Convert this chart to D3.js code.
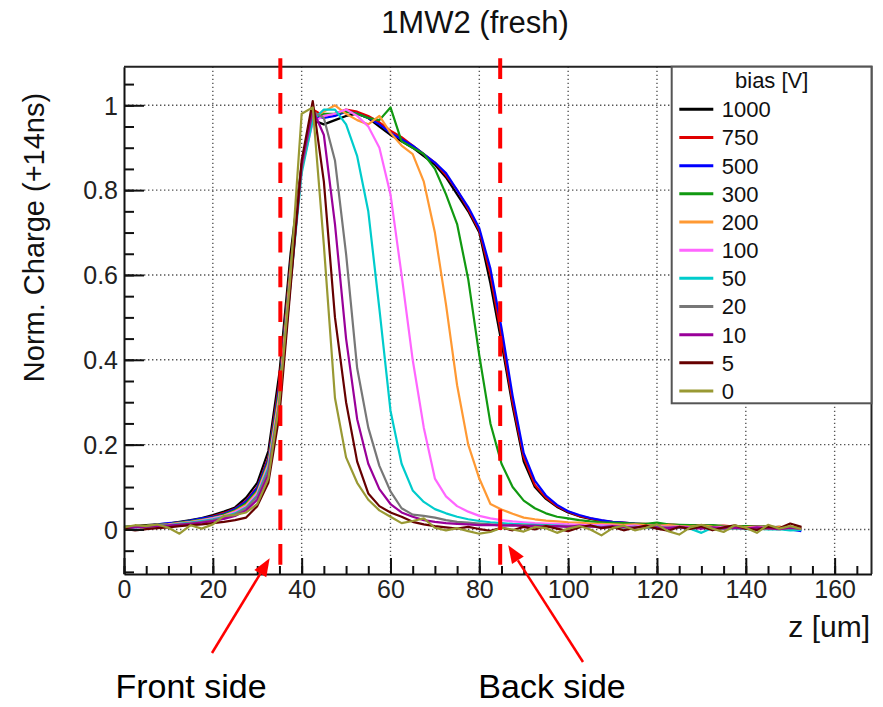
<!DOCTYPE html>
<html>
<head>
<meta charset="utf-8">
<script src="https://cdn.jsdelivr.net/npm/d3@7"></script>
<style>
  html, body { margin: 0; padding: 0; background: #fff; }
  svg { display: block; font-family: "Liberation Sans", Arial, Helvetica, sans-serif; }
</style>
</head>
<body>
<svg id="chart" width="883" height="707"></svg>
<script>
// Scan positions along the sensor depth [um]
const zPositions = [0, 2.5, 5, 7.5, 10, 12.5, 15, 17.5, 20, 22.5, 25, 27.5, 30, 32.5, 35, 37.5, 40,
  42.5, 45, 47.5, 50, 52.5, 55, 57.5, 60, 62.5, 65, 67.5, 70, 72.5, 75, 77.5, 80, 82.5, 85, 87.5,
  90, 92.5, 95, 97.5, 100, 102.5, 105, 107.5, 110, 112.5, 115, 117.5, 120, 122.5, 125, 127.5,
  130, 132.5, 135, 137.5, 140, 142.5, 145, 147.5, 150, 152.5];

// Bias voltages [V], in legend order
const biasLabels = ["1000", "750", "500", "300", "200", "100", "50", "20", "10", "5", "0"];

// Normalised collected charge (+14 ns) per bias voltage
const charge1000 = [0.006, 0.008, 0.010, 0.012, 0.014, 0.018, 0.022, 0.027, 0.034, 0.042, 0.052, 0.075, 0.110, 0.185, 0.37, 0.65, 0.86,
  0.965, 0.955, 0.965, 0.975, 0.98, 0.97, 0.95, 0.93, 0.915, 0.90,
  0.88, 0.86, 0.83, 0.79, 0.75, 0.70, 0.58, 0.44, 0.29, 0.16,
  0.10, 0.072, 0.053, 0.04, 0.031, 0.025, 0.02, 0.017, 0.015, 0.013,
  0.012, 0.011, 0.010, 0.009, 0.010, 0.008, 0.009, 0.007, 0.008, 0.006,
  0.007, 0.005, 0.006, 0.004, 0.005];
const charge750 = [0.004, 0.007, 0.009, 0.011, 0.013, 0.017, 0.020, 0.025, 0.031, 0.039, 0.049, 0.068, 0.100, 0.17, 0.35, 0.63, 0.85,
  0.99, 0.975, 0.98, 0.99, 0.985, 0.975, 0.96, 0.94, 0.925, 0.905,
  0.885, 0.865, 0.835, 0.80, 0.755, 0.705, 0.60, 0.455, 0.30, 0.17,
  0.105, 0.075, 0.055, 0.042, 0.032, 0.026, 0.021, 0.018, 0.016, 0.014,
  0.013, 0.011, 0.012, 0.010, 0.009, 0.010, 0.008, 0.009, 0.007, 0.008,
  0.006, 0.007, 0.005, 0.006, 0.004];
const charge500 = [0.005, 0.006, 0.008, 0.012, 0.015, 0.017, 0.021, 0.026, 0.030, 0.037, 0.048, 0.066, 0.098, 0.165, 0.34, 0.62, 0.85,
  0.975, 0.97, 0.975, 0.985, 0.98, 0.97, 0.955, 0.935, 0.92, 0.905,
  0.885, 0.865, 0.84, 0.80, 0.76, 0.71, 0.615, 0.475, 0.315, 0.18,
  0.115, 0.08, 0.058, 0.043, 0.034, 0.027, 0.022, 0.018, 0.016, 0.014,
  0.012, 0.011, 0.009, 0.010, 0.008, 0.007, 0.008, 0.006, 0.007, 0.005,
  0.006, 0.004, 0.002, 0.000, -0.004];
const charge300 = [0.006, 0.007, 0.009, 0.011, 0.012, 0.016, 0.019, 0.023, 0.028, 0.035, 0.045, 0.062, 0.092, 0.16, 0.33, 0.62, 0.85,
  0.97, 0.98, 0.98, 0.985, 0.98, 0.97, 0.965, 0.995, 0.915, 0.90,
  0.885, 0.85, 0.79, 0.72, 0.59, 0.41, 0.25, 0.155, 0.10, 0.068,
  0.05, 0.038, 0.03, 0.026, 0.022, 0.019, 0.017, 0.016, 0.015, 0.014,
  0.013, 0.016, 0.012, 0.011, 0.010, 0.009, 0.010, 0.008, 0.007, 0.008,
  0.006, 0.007, 0.005, 0.004, 0.005];
const charge200 = [0.005, 0.007, 0.008, 0.010, 0.012, 0.015, 0.018, 0.022, 0.027, 0.033, 0.043, 0.058, 0.088, 0.155, 0.32, 0.61, 0.86,
  0.97, 0.985, 1.0, 0.98, 0.965, 0.955, 0.975, 0.935, 0.905, 0.885,
  0.82, 0.70, 0.53, 0.34, 0.20, 0.12, 0.06, 0.047, 0.037, 0.028,
  0.024, 0.021, 0.019, 0.017, 0.016, 0.014, 0.013, 0.012, 0.011, 0.012,
  0.010, 0.009, 0.010, 0.008, 0.007, 0.009, 0.007, 0.006, 0.008, 0.005,
  0.006, 0.004, 0.006, 0.005, 0.004];
const charge100 = [0.004, 0.006, 0.008, 0.009, 0.011, 0.014, 0.017, 0.021, 0.026, 0.032, 0.041, 0.055, 0.085, 0.15, 0.31, 0.60, 0.85,
  0.96, 0.975, 0.98, 0.99, 0.975, 0.95, 0.90, 0.79, 0.60, 0.40,
  0.24, 0.12, 0.078, 0.055, 0.042, 0.032, 0.026, 0.022, 0.019, 0.017,
  0.015, 0.014, 0.013, 0.012, 0.011, 0.010, 0.010, 0.009, 0.008, 0.009,
  0.007, 0.008, 0.006, 0.007, 0.005, 0.006, 0.004, 0.006, 0.005, 0.003,
  0.005, 0.004, 0.003, 0.004, 0.002];
const charge50 = [0.003, 0.005, 0.007, 0.009, 0.010, 0.013, 0.016, 0.020, 0.024, 0.030, 0.038, 0.052, 0.08, 0.145, 0.30, 0.58, 0.84,
  0.965, 0.99, 0.99, 0.955, 0.88, 0.75, 0.52, 0.28, 0.155, 0.092,
  0.065, 0.048, 0.038, 0.030, 0.024, 0.020, 0.017, 0.015, 0.013, 0.012,
  0.011, 0.010, 0.009, 0.008, 0.007, 0.008, 0.006, 0.007, 0.005, 0.006,
  0.004, 0.005, 0.003, 0.004, 0.002, -0.008, 0.004, 0.002, 0.003, 0.001,
  0.002, 0.000, 0.001, -0.002, -0.001];
const charge20 = [0.004, 0.006, 0.007, 0.008, 0.010, 0.012, 0.015, 0.018, 0.022, 0.028, 0.036, 0.05, 0.078, 0.14, 0.30, 0.59, 0.85,
  0.985, 0.97, 0.87, 0.65, 0.38, 0.24, 0.15, 0.09, 0.05, 0.035,
  0.032, 0.028, 0.022, 0.018, 0.016, 0.014, 0.012, 0.011, 0.009, 0.010,
  0.008, 0.009, 0.007, 0.008, 0.006, 0.007, 0.005, 0.006, 0.004, 0.006,
  0.005, 0.003, 0.005, 0.004, 0.002, 0.004, 0.003, 0.001, 0.003, 0.002,
  0.000, 0.002, 0.001, 0.003, 0.001];
const charge10 = [0.003, 0.005, 0.006, 0.008, 0.009, 0.011, 0.013, 0.016, 0.020, 0.025, 0.032, 0.045, 0.07, 0.13, 0.29, 0.58, 0.86,
  0.99, 0.93, 0.72, 0.45, 0.26, 0.155, 0.095, 0.06, 0.04, 0.03,
  0.022, 0.018, 0.015, 0.013, 0.012, 0.010, 0.011, 0.009, 0.010, 0.008,
  0.009, 0.007, 0.008, 0.006, 0.009, 0.007, 0.005, 0.008, 0.006, 0.004,
  0.007, 0.005, 0.003, 0.006, 0.004, 0.002, 0.005, 0.003, 0.004, 0.002,
  0.005, 0.003, 0.001, 0.004, 0.002];
const charge5 = [0.002, -0.002, 0.001, 0.003, 0.005, 0.008, 0.010, 0.012, 0.015, 0.018, 0.022, 0.028, 0.055, 0.11, 0.27, 0.57, 0.87,
  1.01, 0.82, 0.50, 0.30, 0.16, 0.085, 0.055, 0.04, 0.03, 0.018,
  0.012, 0.008, 0.005, 0.002, 0.006, 0.001, -0.003, 0.004, -0.002, 0.006,
  0.000, 0.008, 0.002, -0.004, 0.005, 0.010, 0.003, 0.006, -0.002, 0.004,
  0.009, 0.002, -0.003, 0.006, 0.001, 0.007, -0.002, 0.005, 0.010, 0.002,
  -0.001, 0.006, 0.003, 0.014, 0.006];
const charge0 = [0.005, 0.010, 0.008, 0.012, 0.004, -0.010, 0.010, 0.002, 0.012, 0.032, 0.034, 0.040, 0.06, 0.12, 0.30, 0.60, 0.98,
  0.995, 0.67, 0.31, 0.17, 0.11, 0.07, 0.045, 0.03, 0.015, 0.02,
  0.026, 0.004, -0.002, 0.003, -0.004, -0.010, -0.006, 0.004, 0.000, -0.005,
  0.006, 0.003, -0.008, 0.002, 0.008, 0.000, -0.014, 0.003, 0.009, -0.002,
  0.004, 0.012, -0.004, -0.012, 0.005, 0.011, 0.002, -0.006, 0.010, 0.004,
  -0.008, 0.011, 0.002, 0.008, 0.001];

const chargeSeries = [charge1000, charge750, charge500, charge300, charge200, charge100,
  charge50, charge20, charge10, charge5, charge0];

// Axis ticks
const xTickValues = [0, 20, 40, 60, 80, 100, 120, 140, 160];
const yTickValues = [0, 0.2, 0.4, 0.6, 0.8, 1];
const yTickLabels = ["0", "0.2", "0.4", "0.6", "0.8", "1"];

// Sensor boundaries [um]
const frontSideZ = 35.2;
const backSideZ = 84.7;

// ---- styling ----
const seriesColors = ["#000000", "#e00000", "#0000ff", "#119911", "#ff9933", "#ff66ff",
  "#00cccc", "#777777", "#990099", "#660000", "#999933"];

const svg = d3.select("#chart");
const frame = { left: 124, right: 871.5, top: 66.7, bottom: 574 };

const x = d3.scaleLinear().domain([0, 168.3]).range([frame.left, frame.right]);
const y = d3.scaleLinear().domain([-0.105, 1.091]).range([frame.bottom, frame.top]);

// Title
svg.append("text")
  .attr("x", 475).attr("y", 33)
  .attr("text-anchor", "middle")
  .attr("font-size", 31).attr("fill", "#111")
  .text("1MW2 (fresh)");

// Dotted grid at major ticks
const grid = svg.append("g").attr("stroke", "#555").attr("stroke-width", 1.4)
  .attr("stroke-dasharray", "1.4 2.6");
grid.selectAll("line.v").data(xTickValues.filter(d => d > 0)).join("line")
  .attr("class", "v")
  .attr("x1", d => x(d)).attr("x2", d => x(d))
  .attr("y1", frame.top).attr("y2", frame.bottom);
grid.selectAll("line.h").data(yTickValues).join("line")
  .attr("class", "h")
  .attr("x1", frame.left).attr("x2", frame.right)
  .attr("y1", d => y(d)).attr("y2", d => y(d));

// Curves, first entry drawn first
const line = d3.line().x(d => x(d[0])).y(d => y(d[1]));
svg.append("g").attr("fill", "none").attr("stroke-width", 2.2).attr("stroke-linejoin", "round")
  .selectAll("path").data(chargeSeries).join("path")
  .attr("stroke", (d, i) => seriesColors[i])
  .attr("d", vals => line(vals.map((v, j) => [zPositions[j], v])));

// Axes: minor and major ticks pointing into the frame
const xMinor = d3.range(0, 168, 5);
const yMinor = d3.range(-0.1, 1.08, 0.05);

const gx = svg.append("g").attr("transform", `translate(0,${frame.bottom})`);
gx.append("g").call(d3.axisBottom(x).tickValues(xMinor).tickSize(-8).tickSizeOuter(0).tickFormat(""))
  .call(g => g.select(".domain").remove());
gx.append("g").call(d3.axisBottom(x).tickValues(xTickValues).tickSize(-16).tickSizeOuter(0).tickFormat(d3.format("d")));

const gy = svg.append("g").attr("transform", `translate(${frame.left},0)`);
gy.append("g").call(d3.axisLeft(y).tickValues(yMinor).tickSize(-10).tickSizeOuter(0).tickFormat(""))
  .call(g => g.select(".domain").remove());
gy.append("g").call(d3.axisLeft(y).tickValues(yTickValues).tickSize(-20).tickSizeOuter(0)
  .tickFormat((d, i) => yTickLabels[i]));

svg.selectAll(".tick line").attr("stroke", "#111").attr("stroke-width", 2);
svg.selectAll(".domain").attr("stroke", "#111").attr("stroke-width", 2);
gx.selectAll(".tick text").attr("font-size", 25).attr("fill", "#222")
  .attr("font-family", null).attr("y", 24).attr("dy", 0);
gy.selectAll(".tick text").attr("font-size", 25).attr("fill", "#222")
  .attr("font-family", null).attr("x", -6).attr("dy", "0.35em");
svg.selectAll(".tick text").style("font-family", "'Liberation Sans', Arial, sans-serif");

// Top and right frame edges
svg.append("path")
  .attr("d", `M${frame.left},${frame.top}H${frame.right}V${frame.bottom}`)
  .attr("fill", "none").attr("stroke", "#222").attr("stroke-width", 2);

// Axis titles
svg.append("text")
  .attr("x", 870).attr("y", 637)
  .attr("text-anchor", "end").attr("font-size", 30).attr("fill", "#111")
  .text("z [um]");
svg.append("text")
  .attr("transform", "translate(43.5,237.5) rotate(-90)")
  .attr("text-anchor", "middle").attr("font-size", 29).attr("fill", "#111")
  .text("Norm. Charge (+14ns)");

// Sensor boundary markers
svg.append("g").selectAll("line").data([frontSideZ, backSideZ]).join("line")
  .attr("x1", d => x(d)).attr("x2", d => x(d))
  .attr("y1", 58.3).attr("y2", 565)
  .attr("stroke", "#ff0000").attr("stroke-width", 4)
  .attr("stroke-dasharray", "20.7 14");

// Legend
const legend = svg.append("g").attr("transform", `translate(671.7,${frame.top})`);
legend.append("rect")
  .attr("width", frame.right - 671.7).attr("height", 336.6)
  .attr("fill", "#fff").attr("stroke", "#555").attr("stroke-width", 2);
legend.append("text")
  .attr("x", 100).attr("y", 21).attr("text-anchor", "middle")
  .attr("font-size", 22).attr("fill", "#111")
  .text("bias [V]");
const entries = legend.selectAll("g.entry").data(biasLabels).join("g")
  .attr("class", "entry")
  .attr("transform", (d, i) => `translate(0,${42.6 + i * 28.17})`);
entries.append("line")
  .attr("x1", 7.6).attr("x2", 41.6)
  .attr("stroke", (d, i) => seriesColors[i]).attr("stroke-width", 3);
entries.append("text")
  .attr("x", 50).attr("dy", "0.36em")
  .attr("font-size", 22).attr("fill", "#111")
  .text(d => d);

// Annotations: arrows from the side labels to the boundary markers
function arrow(tail, tip) {
  const g = svg.append("g");
  const ang = Math.atan2(tip[1] - tail[1], tip[0] - tail[0]);
  const len = 18, half = 7;
  const bx = tip[0] - len * Math.cos(ang), by = tip[1] - len * Math.sin(ang);
  g.append("line")
    .attr("x1", tail[0]).attr("y1", tail[1]).attr("x2", bx).attr("y2", by)
    .attr("stroke", "#ff0000").attr("stroke-width", 2.5);
  g.append("path")
    .attr("d", `M${tip[0]},${tip[1]}L${bx + half * Math.sin(ang)},${by - half * Math.cos(ang)}L${bx - half * Math.sin(ang)},${by + half * Math.cos(ang)}Z`)
    .attr("fill", "#ff0000");
}
const frontLabel = { x: 191, y: 698 };
const backLabel = { x: 552, y: 698 };
arrow([frontLabel.x + 21, frontLabel.y - 45], [x(32.8), y(-0.068)]);
arrow([backLabel.x + 31, backLabel.y - 36], [x(86.5), y(-0.037)]);

svg.append("text").attr("x", frontLabel.x).attr("y", frontLabel.y)
  .attr("text-anchor", "middle").attr("font-size", 34).attr("fill", "#000")
  .text("Front side");
svg.append("text").attr("x", backLabel.x).attr("y", backLabel.y)
  .attr("text-anchor", "middle").attr("font-size", 34).attr("fill", "#000")
  .text("Back side");
</script>
</body>
</html>
